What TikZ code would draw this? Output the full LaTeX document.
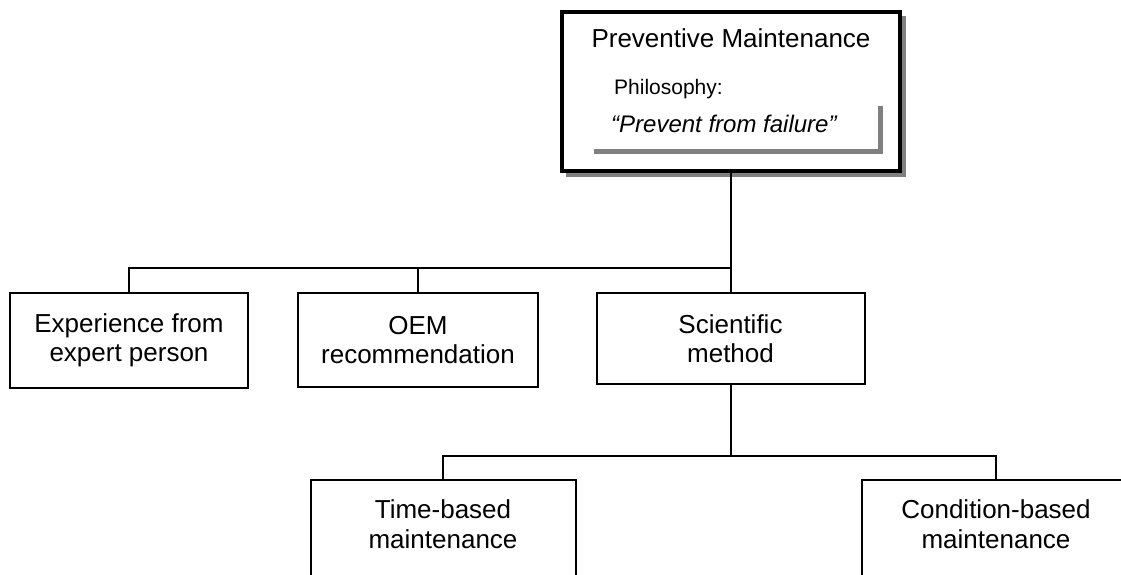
\documentclass[tikz,border=0pt]{standalone}
\usepackage{fontspec}
\setmainfont{Liberation Sans}
\begin{document}
\begin{tikzpicture}[x=1pt,y=-1pt,
  box/.style={draw=black, line width=2pt, fill=white, inner sep=0pt, rectangle},
  label26/.style={font=\fontsize{26}{29.5}\selectfont, align=center, inner sep=0pt},
  wire/.style={draw=black, line width=2pt},
  shade/.style={color=black!50}
]
\useasboundingbox (0,0) rectangle (1121,575);
\clip (0,0) rectangle (1121,575);

% head box with drop shadow and inner shadowed frame
\fill[shade] (566,16) rectangle (906,177);
\node[box, line width=4pt, minimum width=338pt, minimum height=159pt] (pm) at (730.5,91.5) {};
\node[label26, anchor=base] (pmtitle) at (731,48) {Preventive Maintenance};
\node[font=\fontsize{21}{24}\selectfont, anchor=base west, inner sep=0pt] (phil) at (614,95) {Philosophy:};
\node[font=\fontsize{24}{28}\selectfont\itshape, anchor=base west, inner sep=0pt] (motto) at (611,132) {“Prevent from failure”};
\draw[shade, line width=5pt] (594,151.5) -- (880.5,151.5) -- (880.5,106);

% second level
\node[box, minimum width=238pt, minimum height=95pt] (exp) at (129,340.5) {};
\node[label26] (exptext) at (exp) {Experience from\\expert person};
\node[box, minimum width=240pt, minimum height=94pt] (oem) at (418,340) {};
\node[label26] (oemtext) at (oem) {OEM\\recommendation};
\node[box, minimum width=268pt, minimum height=91pt] (sci) at (730.5,338.5) {};
\node[label26] (scitext) at (sci) {Scientific\\method};

% third level
\node[box, minimum width=265pt, minimum height=110pt] (time) at (443,535) {};
\node[label26] (timetext) at (443,524) {Time-based\\maintenance};
\node[box, minimum width=268pt, minimum height=96pt] (cond) at (996,528) {};
\node[label26] (condtext) at (996,524) {Condition-based\\maintenance};

% junctions of the tree
\coordinate (j1) at (730.5,268);
\coordinate (j2) at (730.5,456);

% connectors
\draw[wire] (pm.south) -- (j1) -- (sci.north);
\draw[wire] (exp.north) |- (j1);
\draw[wire] (oem.north) |- (j1);
\draw[wire] (sci.south) -- (j2);
\draw[wire] (time.north) |- (j2);
\draw[wire] (cond.north) |- (j2);
\end{tikzpicture}
\end{document}
